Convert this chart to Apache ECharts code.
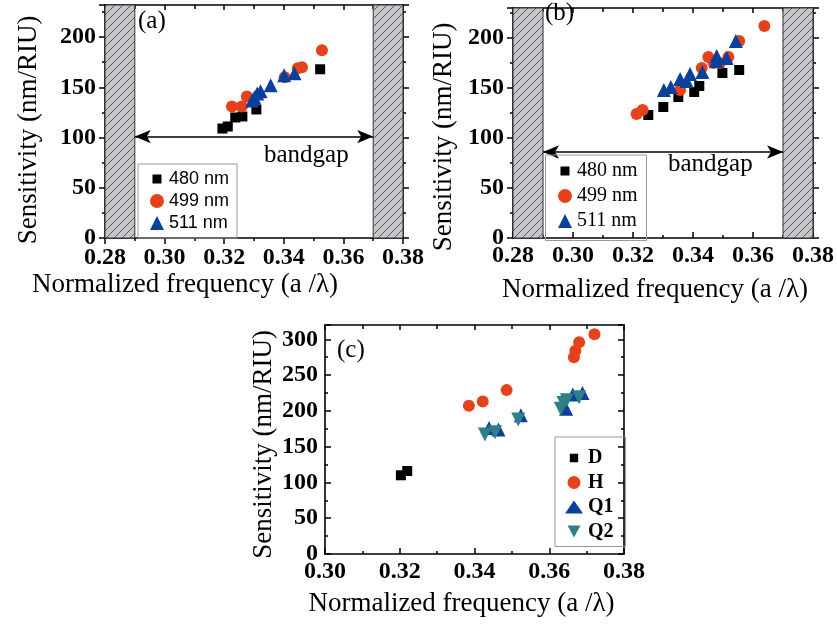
<!DOCTYPE html>
<html><head><meta charset="utf-8">
<script src="https://cdn.jsdelivr.net/npm/echarts@6/dist/echarts.min.js"></script>
<style>html,body{margin:0;padding:0;background:#fff}#c{width:837px;height:624px}</style>
</head><body><div id="c"></div>
<script>
// ---------- data ----------
const xTicksAB = [0.28, 0.30, 0.32, 0.34, 0.36, 0.38];
const xTicksC = [0.30, 0.32, 0.34, 0.36, 0.38];
const bandgapEdges = [0.29, 0.37];
const arrowYa = 101, arrowYb = 86;

const a480x = [0.3194, 0.3212, 0.3237, 0.3261, 0.3308, 0.3522];
const a480y = [109, 111, 120, 121, 128, 168];
const a499x = [0.3226, 0.3259, 0.3276, 0.3403, 0.3447, 0.3461, 0.3528];
const a499y = [131, 131, 141, 160, 169, 170, 187];
const a511x = [0.3294, 0.3301, 0.3311, 0.3322, 0.3356, 0.3401, 0.3436];
const a511y = [137, 140, 144, 146, 152, 162, 164];

const b480x = [0.3251, 0.3301, 0.3351, 0.3404, 0.3421, 0.3498, 0.3554];
const b480y = [123, 131, 141, 146, 152, 165, 168];
const b499x = [0.3212, 0.3232, 0.3357, 0.3429, 0.3451, 0.3468, 0.3490, 0.3518, 0.3554, 0.3638];
const b499y = [124, 128, 148, 170, 181, 175, 175, 181, 197, 212];
const b511x = [0.3303, 0.3326, 0.3357, 0.3379, 0.3390, 0.3431, 0.3479, 0.3477, 0.3512, 0.3543];
const b511y = [148, 151, 159, 157, 164, 166, 182, 177, 180, 197];

const cDx = [0.3203, 0.3220];
const cDy = [110, 116];
const cHx = [0.3385, 0.3422, 0.3486, 0.3666, 0.3670, 0.3680, 0.3721];
const cHy = [207, 213, 229, 275, 284, 296, 307];
const cQ1x = [0.3439, 0.3464, 0.3524, 0.3645, 0.3663, 0.3689];
const cQ1y = [176, 174, 194, 203, 223, 225];
const cQ2x = [0.3428, 0.3455, 0.3517, 0.3631, 0.3638, 0.3647, 0.3680];
const cQ2y = [167, 170, 188, 203, 211, 215, 219];

// ---------- styles ----------
const SERIF = 'Liberation Serif';
const SANS = 'Liberation Sans';
const BLACK = '#000000', RED = '#e5421b', BLUE = '#0b3f9c', TEAL = '#2f7f8a';
const zip = (xs, ys) => xs.map((x, i) => [x, ys[i]]);

const hatch = document.createElement('canvas');
hatch.width = 8; hatch.height = 8;
(function () {
  const g = hatch.getContext('2d');
  g.fillStyle = '#c5c5ca'; g.fillRect(0, 0, 8, 8);
  g.strokeStyle = '#3a3a3a'; g.lineWidth = 0.8;
  g.beginPath();
  g.moveTo(-1, 9); g.lineTo(9, -1);
  g.moveTo(-1, 1); g.lineTo(1, -1);
  g.moveTo(7, 9); g.lineTo(9, 7);
  g.stroke();
})();

const tickLabel = { fontFamily: SERIF, fontWeight: 'bold', fontSize: 24, color: '#000' };
const axisLine = { show: true, onZero: false, lineStyle: { color: '#000', width: 1.6 } };

function xAxisPair(grid, min, max, inside, nameGap, namePadRight) {
  return [{
    type: 'value', gridIndex: grid, min: min, max: max, interval: 0.02, position: 'bottom',
    axisLine: axisLine, splitLine: { show: false },
    axisTick: { show: true, inside: inside, length: 6, lineStyle: { color: '#000', width: 1.5 } },
    minorTick: { show: true, splitNumber: 2, length: 3, lineStyle: { color: '#000', width: 1.5 } },
    axisLabel: Object.assign({ margin: inside ? 6 : 8, formatter: v => v.toFixed(2) }, tickLabel),
    name: 'Normalized frequency (a /\u03bb)', nameLocation: 'middle', nameGap: nameGap,
    nameTextStyle: { fontFamily: SERIF, fontSize: 27, color: '#000', padding: [0, namePadRight, 0, 0] }
  }, {
    type: 'value', gridIndex: grid, min: min, max: max, interval: 0.02, position: 'top',
    axisLine: axisLine, splitLine: { show: false }, axisLabel: { show: false },
    axisTick: { show: true, inside: true, length: 5, lineStyle: { color: '#000', width: 1.5 } },
    minorTick: { show: true, splitNumber: 2, length: 4, lineStyle: { color: '#000', width: 1.5 } }
  }];
}
function yAxisPair(grid, max, inside, nameGap, namePadRight) {
  return [{
    type: 'value', gridIndex: grid, min: 0, max: max, interval: 50, position: 'left',
    axisLine: axisLine, splitLine: { show: false },
    axisTick: { show: true, inside: inside, length: 6, lineStyle: { color: '#000', width: 1.5 } },
    minorTick: { show: true, splitNumber: 2, length: 3, lineStyle: { color: '#000', width: 1.5 } },
    axisLabel: Object.assign({ margin: inside ? 7 : 9, showMaxLabel: false,
      formatter: v => (v % 50 === 0 ? String(v) : '') }, tickLabel),
    name: 'Sensitivity (nm/RIU)', nameLocation: 'middle', nameGap: nameGap,
    nameTextStyle: { fontFamily: SERIF, fontSize: 27, color: '#000', padding: [0, namePadRight, 0, 0] }
  }, {
    type: 'value', gridIndex: grid, min: 0, max: max, interval: 50, position: 'right',
    axisLine: axisLine, splitLine: { show: false }, axisLabel: { show: false },
    axisTick: { show: true, inside: inside, length: 6, lineStyle: { color: '#000', width: 1.5 } },
    minorTick: { show: true, splitNumber: 2, length: 3, lineStyle: { color: '#000', width: 1.5 } }
  }];
}

function scatter(name, xi, yi, data, symbol, size, color, rot) {
  return {
    type: 'scatter', name: name, xAxisIndex: xi, yAxisIndex: yi, data: data,
    symbol: symbol, symbolSize: size, symbolRotate: rot || 0,
    itemStyle: { color: color, opacity: 1 }, z: 5, silent: true
  };
}
function bandgapDecor(xi, yi, arrowY) {
  return {
    type: 'scatter', name: 'bg' + xi, xAxisIndex: xi, yAxisIndex: yi, data: [], silent: true, z: 2,
    markArea: {
      silent: true,
      itemStyle: { color: { image: hatch, repeat: 'repeat' }, borderColor: '#333', borderWidth: 1 },
      data: [[{ xAxis: xTicksAB[0] }, { xAxis: bandgapEdges[0] }],
             [{ xAxis: bandgapEdges[1] }, { xAxis: xTicksAB[xTicksAB.length - 1] }]]
    },
    markLine: {
      silent: true, symbol: ['arrow', 'arrow'], symbolSize: [10, 16],
      lineStyle: { color: '#000', width: 1.5, type: 'solid' }, label: { show: false },
      data: [[{ coord: [bandgapEdges[0], arrowY] }, { coord: [bandgapEdges[1], arrowY] }]]
    }
  };
}

const sqIcon = 'path://M0,0h0.01v0.01h-0.01z M2.5,2.5h9v9h-9z M14,14h0.01v0.01h-0.01z';
const downIcon = 'path://M0,0h0.01v0.01h-0.01z M2.5,0.5L15.5,0.5L9,12.5Z M17.99,12.99h0.01v0.01h-0.01z';

const xA = xAxisPair(0, 0.28, 0.38, false, 33, 138);
const xB = xAxisPair(1, 0.28, 0.38, true, 38, 16);
const xC = xAxisPair(2, 0.30, 0.38, true, 36, 26);
const yA = yAxisPair(0, 232, false, 63, 17);
const yB = yAxisPair(1, 230, false, 56, 28);
const yC = yAxisPair(2, 320, true, 48, 10);

const legendBase = { orient: 'vertical', selectedMode: false, borderColor: '#999', borderWidth: 1,
  backgroundColor: 'rgba(255,255,255,0)', z: 20 };

const option = {
  animation: false,
  backgroundColor: '#ffffff',
  grid: [
    { left: 105, top: 5, width: 298, height: 233 },
    { left: 513, top: 8, width: 300, height: 230 },
    { left: 325, top: 325, width: 299, height: 229 }
  ],
  xAxis: [xA[0], xA[1], xB[0], xB[1], xC[0], xC[1]],
  yAxis: [yA[0], yA[1], yB[0], yB[1], yC[0], yC[1]],
  legend: [
    Object.assign({}, legendBase, {
      id: 'la', left: 138, top: 164, itemWidth: 14, itemHeight: 14, itemGap: 2,
      padding: [5, 8, 5, 12],
      textStyle: { fontFamily: SANS, fontSize: 18, color: '#000', lineHeight: 20 },
      data: [{ name: '480 nm', icon: sqIcon }, { name: '499 nm' }, { name: '511 nm' }]
    }),
    Object.assign({}, legendBase, {
      id: 'lb', left: 543, top: 153, itemWidth: 14, itemHeight: 14, itemGap: 3,
      padding: [7, 6, 5, 15], borderWidth: 0,
      textStyle: { fontFamily: SERIF, fontSize: 20, color: '#000', lineHeight: 22 },
      data: [{ name: '480 nm', icon: sqIcon }, { name: '499 nm' }, { name: '511 nm' }]
    }),
    Object.assign({}, legendBase, {
      id: 'lc', left: 555, top: 437, itemWidth: 18, itemHeight: 13, itemGap: 2.5,
      padding: [10, 12, 4, 10],
      textStyle: { fontFamily: SERIF, fontWeight: 'bold', fontSize: 20, color: '#000', lineHeight: 22 },
      data: [{ name: 'D', icon: sqIcon }, { name: 'H' }, { name: 'Q1' }, { name: 'Q2', icon: downIcon }]
    })
  ],
  series: [
    bandgapDecor(0, 0, arrowYa),
    bandgapDecor(2, 2, arrowYb),
    scatter('480 nm', 0, 0, zip(a480x, a480y), 'rect', 10, BLACK),
    scatter('499 nm', 0, 0, zip(a499x, a499y), 'circle', 12, RED),
    scatter('511 nm', 0, 0, zip(a511x, a511y), 'triangle', 14, BLUE),
    scatter('480 nm', 2, 2, zip(b480x, b480y), 'rect', 10, BLACK),
    scatter('499 nm', 2, 2, zip(b499x, b499y), 'circle', 12, RED),
    scatter('511 nm', 2, 2, zip(b511x, b511y), 'triangle', 14, BLUE),
    scatter('D', 4, 4, zip(cDx, cDy), 'rect', 10, BLACK),
    scatter('H', 4, 4, zip(cHx, cHy), 'circle', 12, RED),
    scatter('Q1', 4, 4, zip(cQ1x, cQ1y), 'triangle', 14, BLUE),
    scatter('Q2', 4, 4, zip(cQ2x, cQ2y), 'triangle', 14, TEAL, 180)
  ],
  graphic: [
    { type: 'rect', left: 543, top: 152.5, z: 30, silent: true,
      shape: { width: 101, height: 85.5 }, style: { fill: 'none', stroke: '#999', lineWidth: 1 } },
    { type: 'text', left: 138, top: 9, style: { text: '(a)', font: '25px "Liberation Serif"', fill: '#000' } },
    { type: 'text', left: 545, top: 1, style: { text: '(b)', font: '25px "Liberation Serif"', fill: '#000' } },
    { type: 'text', left: 337, top: 338, style: { text: '(c)', font: '25px "Liberation Serif"', fill: '#000' } },
    { type: 'text', left: 264, top: 143, style: { text: 'bandgap', font: '25px "Liberation Serif"', fill: '#000' } },
    { type: 'text', left: 668, top: 152, style: { text: 'bandgap', font: '25px "Liberation Serif"', fill: '#000' } }
  ]
};
const chart = echarts.init(document.getElementById('c'), null, { renderer: 'canvas' });
chart.setOption(option);
</script>
</body></html>
